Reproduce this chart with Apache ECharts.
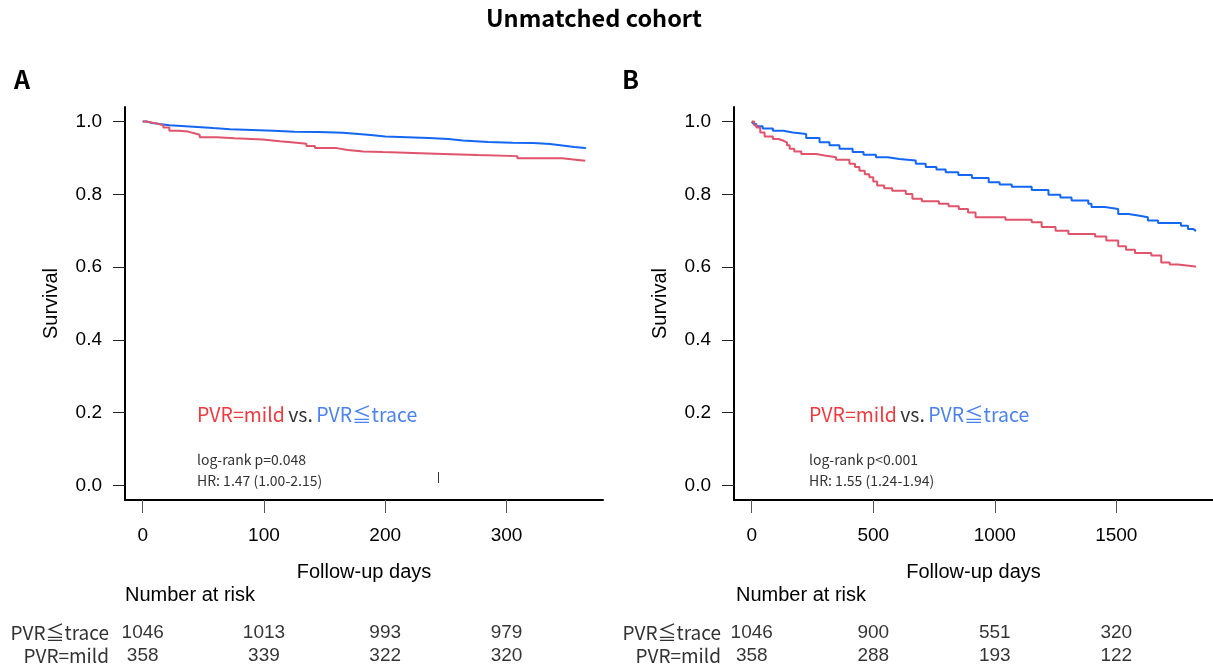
<!DOCTYPE html>
<html>
<head>
<meta charset="utf-8">
<script src="https://cdn.jsdelivr.net/npm/echarts@6/dist/echarts.min.js"></script>
<style>html,body{margin:0;padding:0;background:#fff}#c{width:1213px;height:669px}</style>
</head>
<body>
<div id="c"></div>
<script>
// ---- Data ----
const timesA_trace = [0, 3, 8, 14, 22, 32, 45, 58, 72, 90, 108, 125, 145, 165, 178, 188, 200, 218, 236, 252, 264, 285, 305, 322, 336, 346, 356, 365];
const survA_trace = [1.000, .996, .993, .990, .988, .985, .982, .979, .977, .975, .972, .971, .969, .966, .963, .959, .957, .955, .952, .948, .944, .942, .941, .938, .934, .930, .927, .925];
const timesA_mild = [0, 3, 11, 17, 22, 30, 37, 41, 47, 61, 76, 99, 113, 127, 135, 142, 160, 169, 182, 198, 248, 276, 309, 346, 357, 365];
const survA_mild = [1.000, .995, .990, .984, .975, .973, .969, .964, .957, .954, .951, .946, .942, .939, .933, .927, .922, .918, .916, .911, .908, .905, .899, .895, .892, .892];

const timesB_trace = [0, 8, 19, 45, 87, 130, 169, 224, 279, 320, 361, 415, 460, 511, 560, 607, 675, 716, 760, 798, 850, 906, 975, 1020, 1070, 1152, 1221, 1270, 1316, 1385, 1398, 1453, 1508, 1550, 1590, 1630, 1672, 1766, 1795, 1816, 1825];
const survB_trace = [1.000, .993, .987, .981, .975, .970, .966, .955, .943, .935, .925, .916, .909, .902, .897, .893, .884, .875, .868, .861, .853, .845, .833, .827, .821, .812, .799, .791, .783, .774, .765, .760, .746, .742, .737, .728, .721, .714, .705, .701, .698];
const timesB_mild = [0, 10, 19, 35, 53, 87, 110, 128, 145, 156, 175, 204, 265, 300, 347, 402, 425, 443, 465, 484, 500, 516, 545, 578, 634, 661, 700, 770, 810, 852, 890, 921, 1044, 1152, 1193, 1250, 1303, 1413, 1459, 1508, 1540, 1577, 1644, 1685, 1720, 1754, 1825];
const survB_mild = [1.000, .990, .984, .970, .959, .952, .948, .943, .935, .925, .918, .911, .907, .902, .895, .884, .875, .865, .855, .847, .835, .824, .817, .810, .801, .788, .781, .774, .767, .760, .750, .737, .730, .723, .710, .700, .691, .684, .673, .657, .648, .639, .632, .613, .607, .602, .599];

const yTicks = [0, 0.2, 0.4, 0.6, 0.8, 1.0];
const xTicksA = [0, 100, 200, 300];
const xTicksB = [0, 500, 1000, 1500];

const riskGroups = ['PVR=mild', 'PVR≦trace'];
const riskTimesA = [0, 100, 200, 300];
const riskTraceA = [1046, 1013, 993, 979];
const riskMildA = [358, 339, 322, 320];
const riskTimesB = [0, 500, 1000, 1500];
const riskTraceB = [1046, 900, 551, 320];
const riskMildB = [358, 288, 193, 122];

// ---- Style ----
const RED = '#DF536B', BLUE = '#1467F2';
const TXT_RED = '#EE3A3F', TXT_BLUE = '#4C82EC';
const SANS = '"Liberation Sans", Arial, sans-serif';
const JP = '"Noto Sans CJK JP", sans-serif';

function zip(t, s) { return t.map((v, i) => [v, s[i]]); }

const gridA = { left: 125, top: 107, width: 478, height: 393 };
const gridB = { left: 734, top: 107, width: 479, height: 393 };
const riskA = { left: 125, top: 621, width: 478, height: 46 };
const riskB = { left: 734, top: 621, width: 479, height: 46 };

function xAxisMain(idx, min, max, ticks) {
  return {
    type: 'value', gridIndex: idx, min: min, max: max,
    name: 'Follow-up days', nameLocation: 'middle', nameGap: 62,
    nameTextStyle: { fontFamily: SANS, fontSize: 20, color: '#000' },
    axisLine: { show: true, onZero: false, lineStyle: { color: '#000', width: 2 } },
    axisTick: { show: true, inside: false, length: 13, customValues: ticks, lineStyle: { color: '#555', width: 1 } },
    axisLabel: { show: true, customValues: ticks, margin: 26, fontFamily: SANS, fontSize: 19, color: '#000',
      formatter: v => String(v) },
    splitLine: { show: false }
  };
}
function yAxisMain(idx) {
  return {
    type: 'value', gridIndex: idx, min: -0.04, max: 1.04,
    name: 'Survival', nameLocation: 'middle', nameGap: 64, nameRotate: 90,
    nameTextStyle: { fontFamily: SANS, fontSize: 20, color: '#000' },
    axisLine: { show: true, onZero: false, lineStyle: { color: '#000', width: 2 } },
    axisTick: { show: true, length: 12, customValues: yTicks, lineStyle: { color: '#222', width: 1 } },
    axisLabel: { show: true, customValues: yTicks, margin: 23, fontFamily: SANS, fontSize: 19, color: '#000',
      formatter: v => v.toFixed(1) },
    splitLine: { show: false }
  };
}
function xAxisRisk(idx, min, max) {
  return { type: 'value', gridIndex: idx, min: min, max: max, show: false };
}
function yAxisRisk(idx, margin) {
  return {
    type: 'category', gridIndex: idx, data: riskGroups,
    axisLine: { show: false }, axisTick: { show: false }, splitLine: { show: false },
    axisLabel: { interval: 0, hideOverlap: false, margin: margin, fontFamily: JP, fontSize: 19, color: '#333' }
  };
}
function riskSeries(idx, times, trace, mild) {
  const data = [];
  times.forEach((t, i) => { data.push([t, 'PVR≦trace', trace[i]]); data.push([t, 'PVR=mild', mild[i]]); });
  return {
    type: 'scatter', xAxisIndex: idx, yAxisIndex: idx, symbolSize: 0, data: data,
    label: { show: true, position: 'inside', formatter: p => String(p.value[2]),
      fontFamily: SANS, fontSize: 19, color: '#000' },
    labelLayout: { hideOverlap: false },
    silent: true
  };
}
function kmSeries(idx, t, s, color) {
  return {
    type: 'line', xAxisIndex: idx, yAxisIndex: idx, step: 'end', data: zip(t, s),
    showSymbol: false, symbol: 'none', lineStyle: { color: color, width: 2 }, silent: true, animation: false
  };
}

function annot(x) {
  return [
    { type: 'text', left: x, top: 405, style: {
      text: '{r|PVR=mild} {k|vs.} {b|PVR≦trace}',
      rich: {
        r: { fontFamily: JP, fontSize: 19.5, fill: TXT_RED },
        k: { fontFamily: JP, fontSize: 19.5, fill: '#333' },
        b: { fontFamily: JP, fontSize: 19.5, fill: TXT_BLUE }
      } } }
  ];
}

const chart = echarts.init(document.getElementById('c'), null, { renderer: 'canvas' });
chart.setOption({
  animation: false,
  backgroundColor: '#fff',
  title: [
    { text: 'Unmatched cohort', left: 481, top: 1, textStyle: { fontFamily: JP, fontSize: 23.5, fontWeight: 'bold', color: '#000' } },
    { text: 'A', left: 9, top: 62, textStyle: { fontFamily: JP, fontSize: 25, fontWeight: 'bold', color: '#000' } },
    { text: 'B', left: 617, top: 62, textStyle: { fontFamily: JP, fontSize: 25, fontWeight: 'bold', color: '#000' } }
  ],
  grid: [gridA, gridB, riskA, riskB],
  xAxis: [xAxisMain(0, -14.6, 379.6, xTicksA), xAxisMain(1, -73, 1898, xTicksB), xAxisRisk(2, -14.6, 379.6), xAxisRisk(3, -73, 1898)],
  yAxis: [yAxisMain(0), yAxisMain(1), yAxisRisk(2, 16), yAxisRisk(3, 13)],
  series: [
    kmSeries(0, timesA_trace, survA_trace, BLUE),
    kmSeries(0, timesA_mild, survA_mild, RED),
    kmSeries(1, timesB_trace, survB_trace, BLUE),
    kmSeries(1, timesB_mild, survB_mild, RED),
    riskSeries(2, riskTimesA, riskTraceA, riskMildA),
    riskSeries(3, riskTimesB, riskTraceB, riskMildB)
  ],
  graphic: [
    ...annot(197), ...annot(809),
    { type: 'text', left: 197, top: 449, style: { text: 'log-rank p=0.048\nHR: 1.47 (1.00-2.15)', fontFamily: JP, fontSize: 14, lineHeight: 21, fill: '#333' } },
    { type: 'text', left: 809, top: 449, style: { text: 'log-rank p<0.001\nHR: 1.55 (1.24-1.94)', fontFamily: JP, fontSize: 14, lineHeight: 21, fill: '#333' } },
    { type: 'line', shape: { x1: 438.5, y1: 472, x2: 438.5, y2: 483 }, style: { stroke: '#333', lineWidth: 1 } },
    { type: 'text', left: 125, top: 585, style: { text: 'Number at risk', fontFamily: SANS, fontSize: 20, fill: '#000' } },
    { type: 'text', left: 736, top: 585, style: { text: 'Number at risk', fontFamily: SANS, fontSize: 20, fill: '#000' } }
  ]
});
</script>
</body>
</html>
